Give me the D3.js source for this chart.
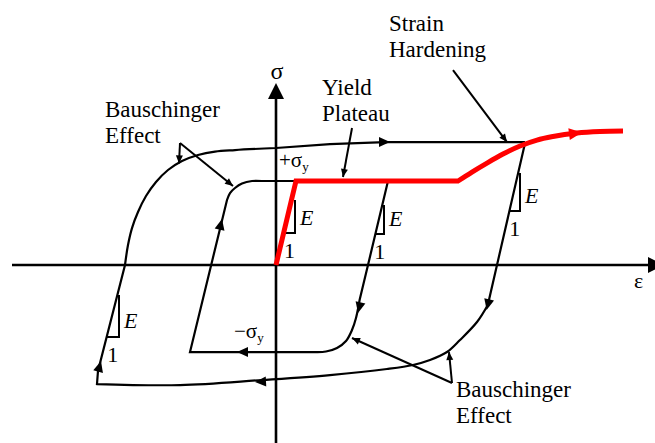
<!DOCTYPE html>
<html>
<head>
<meta charset="utf-8">
<script src="https://cdn.jsdelivr.net/npm/d3@7"></script>
<style>
  html, body { margin: 0; padding: 0; background: #fff; }
  svg { display: block; }
  text { font-family: "Liberation Serif", "Times New Roman", serif; fill: #000; }
</style>
</head>
<body>
<svg id="chart" width="655" height="443"></svg>
<script>
// Strain in multiples of the yield strain (εy), stress in multiples of the yield stress (σy)
const strainExtent = [-13.2, 19.4];
const stressExtent = [-2.119, 2.167];

// Monotonic loading: elastic rise, yield plateau, then strain hardening
const monotonicElastic = [[0, 0], [1, 1], [9.1, 1]];
const monotonicHardening = [[9.1, 1], [9.8, 1.107], [10.55, 1.214], [11.35, 1.321], [12.2, 1.417],
  [13.05, 1.488], [13.85, 1.53], [15.05, 1.571], [16.2, 1.589], [17.35, 1.595]];

// Large cycle: unloading from the hardening range, reverse yielding, reloading
const outerUnload = [[12.45, 1.45], [11.05, 0], [10.59, -0.476]];
const outerReverseBend = [[10.59, -0.476], [10.05, -0.679], [9.2, -0.893], [8.55, -1.036], [7.7, -1.131],
  [6.85, -1.19], [5.55, -1.238], [2.7, -1.31], [-0.7, -1.369], [-4.8, -1.429], [-8.95, -1.417]];
const outerReload = [[-8.95, -1.417], [-8.9, -1.262], [-7.55, 0]];
const outerReloadBend = [[-7.55, 0], [-7.4, 0.238], [-7.2, 0.44], [-6.9, 0.631], [-6.5, 0.821],
  [-6.0, 0.988], [-5.4, 1.131], [-4.7, 1.238], [-3.9, 1.31], [-3.05, 1.351], [-2.05, 1.369], [0, 1.393]];
const outerTop = [[0, 1.393], [2.7, 1.44], [5.45, 1.464], [12.45, 1.464]];

// Small cycle: unloading from the yield plateau
const innerUnload = [[5.6, 1], [4.6, 0], [4.18, -0.417]];
const innerReverseBend = [[4.18, -0.417], [4.0, -0.631], [3.8, -0.774], [3.5, -0.905], [3.05, -0.988],
  [2.5, -1.03], [1.95, -1.036]];
const innerReverse = [[1.95, -1.036], [-4.3, -1.036], [-2.45, 0.774]];
const innerReloadBend = [[-2.45, 0.774], [-2.3, 0.857], [-2.05, 0.917], [-1.7, 0.97], [-1.2, 1], [-0.7, 1]];
const innerTop = [[-0.7, 1], [1, 1]];

// Direction arrows along the paths: [from, tip]
const loopArrows = [
  [[5.2, 1.464], [5.7, 1.464]],
  [[10.65, -0.417], [10.53, -0.536]],
  [[4.25, -0.417], [4.1, -0.571]],
  [[-1.45, -1.036], [-1.95, -1.036]],
  [[-0.55, -1.387], [-1.05, -1.393]],
  [[-8.9, -1.274], [-8.75, -1.143]],
  [[-2.825, 0.417], [-2.7, 0.548]]
];
const hardeningArrow = [[14.7, 1.56], [15.3, 1.577]];

// Elastic slope markers: [leg strain, top stress, bottom stress, left strain]
const slopeMarkers = [
  [0.95, 0.774, 0.381, 0.4],
  [5.4, 0.714, 0.369, 4.97],
  [12.2, 1.095, 0.643, 11.67],
  [-7.85, -0.357, -0.857, -8.465]
];

// Leader lines for the annotations: [from, tip]
const leaders = [
  [[-4.8, 1.452], [-4.85, 1.21]],
  [[-4.8, 1.452], [-2.15, 0.94]],
  [[3.8, 1.631], [3.35, 1.048]],
  [[8.85, 2.321], [11.55, 1.464]],
  [[8.8, -1.405], [3.8, -0.869]],
  [[8.8, -1.405], [8.65, -1.036]]
];

const bauschingerText = ["Bauschinger", "Effect"];
const plateauText = ["Yield", "Plateau"];
const hardeningText = ["Strain", "Hardening"];

const svg = d3.select("#chart");
const x = d3.scaleLinear().domain(strainExtent).range([12, 664]);
const y = d3.scaleLinear().domain(stressExtent).range([443, 83]);

function branch(segments) {
  let d = "";
  segments.forEach(([pts, curve], i) => {
    const s = d3.line().x(p => x(p[0])).y(p => y(p[1])).curve(curve)(pts);
    d += i === 0 ? s : "L" + s.slice(1);
  });
  return d;
}

function arrowHead(g, from, tip, len, half, color) {
  const tx = x(tip[0]), ty = y(tip[1]);
  const fx = x(from[0]), fy = y(from[1]);
  const L = Math.hypot(tx - fx, ty - fy);
  const ux = (tx - fx) / L, uy = (ty - fy) / L;
  const bx = tx - ux * len, by = ty - uy * len;
  const pts = [[tx, ty], [bx - uy * half, by + ux * half], [bx + uy * half, by - ux * half]];
  g.append("path").attr("d", "M" + pts.join("L") + "Z").attr("fill", color);
}

const lin = d3.curveLinear;
const smooth = d3.curveCatmullRom.alpha(0.5);

// Axes
const axes = svg.append("g");
axes.append("line")
  .attr("x1", x(strainExtent[0])).attr("x2", x(strainExtent[1]) - 14)
  .attr("y1", y(0)).attr("y2", y(0))
  .attr("stroke", "#000").attr("stroke-width", 2.6);
axes.append("line")
  .attr("x1", x(0)).attr("x2", x(0))
  .attr("y1", y(stressExtent[0])).attr("y2", y(stressExtent[1]) + 14)
  .attr("stroke", "#000").attr("stroke-width", 2.6);
arrowHead(axes, [0, 0], [strainExtent[1], 0], 16, 8, "#000");
arrowHead(axes, [0, 0], [0, stressExtent[1]], 16, 8, "#000");

// Hysteresis loops
const loops = svg.append("g").attr("fill", "none").attr("stroke", "#000")
  .attr("stroke-width", 2.2).attr("stroke-linejoin", "miter");
loops.append("path").attr("d", branch([
  [outerUnload, lin], [outerReverseBend, smooth], [outerReload, lin],
  [outerReloadBend, smooth], [outerTop, lin]
]));
loops.append("path").attr("d", branch([
  [innerUnload, lin], [innerReverseBend, smooth], [innerReverse, lin],
  [innerReloadBend, smooth], [innerTop, lin]
]));
const arrows = svg.append("g");
loopArrows.forEach(([f, t]) => arrowHead(arrows, f, t, 11, 5, "#000"));

// Elastic slope markers
const markers = svg.append("g");
slopeMarkers.forEach(([leg, top, bottom, left]) => {
  markers.append("path")
    .attr("d", d3.line()([[x(leg), y(top)], [x(leg), y(bottom)], [x(left), y(bottom)]]))
    .attr("fill", "none").attr("stroke", "#000").attr("stroke-width", 2);
  markers.append("text").attr("x", x(leg) + 5).attr("y", y(bottom) - 8.5)
    .attr("font-size", 22).attr("font-style", "italic").text("E");
  markers.append("text").attr("x", (x(leg) + x(left)) / 2).attr("y", y(bottom) + 25)
    .attr("font-size", 22).attr("text-anchor", "middle").text("1");
});

// Monotonic curve drawn over the loops
svg.append("path").attr("d", branch([[monotonicElastic, lin], [monotonicHardening, d3.curveMonotoneX]]))
  .attr("fill", "none").attr("stroke", "#ff0000").attr("stroke-width", 5)
  .attr("stroke-linejoin", "miter");
arrowHead(svg, hardeningArrow[0], hardeningArrow[1], 13, 6, "#ff0000");

// Annotation leaders
const lead = svg.append("g");
leaders.forEach(([f, t]) => {
  lead.append("line").attr("x1", x(f[0])).attr("y1", y(f[1])).attr("x2", x(t[0])).attr("y2", y(t[1]))
    .attr("stroke", "#000").attr("stroke-width", 2);
  arrowHead(lead, f, t, 8, 3.5, "#000");
});

// Labels
function twoLine(lines, px, py) {
  const t = svg.append("text").attr("font-size", 23);
  lines.forEach((s, i) => t.append("tspan").attr("x", px).attr("y", py + i * 26).text(s));
}
twoLine(bauschingerText, 105, 117);
twoLine(bauschingerText, 456, 397);
twoLine(plateauText, 322, 95);
twoLine(hardeningText, 389, 31);

svg.append("text").attr("x", x(0) + 1).attr("y", 79).attr("font-size", 24)
  .attr("text-anchor", "middle").text("σ");
svg.append("text").attr("x", 634).attr("y", 288).attr("font-size", 22).text("ε");

const plus = svg.append("text").attr("x", 279).attr("y", 167).attr("font-size", 21);
plus.append("tspan").text("+σ");
plus.append("tspan").attr("font-size", 13).attr("dy", 4).text("y");
const minus = svg.append("text").attr("x", 234).attr("y", 338).attr("font-size", 21);
minus.append("tspan").text("−σ");
minus.append("tspan").attr("font-size", 13).attr("dy", 4).text("y");
</script>
</body>
</html>
